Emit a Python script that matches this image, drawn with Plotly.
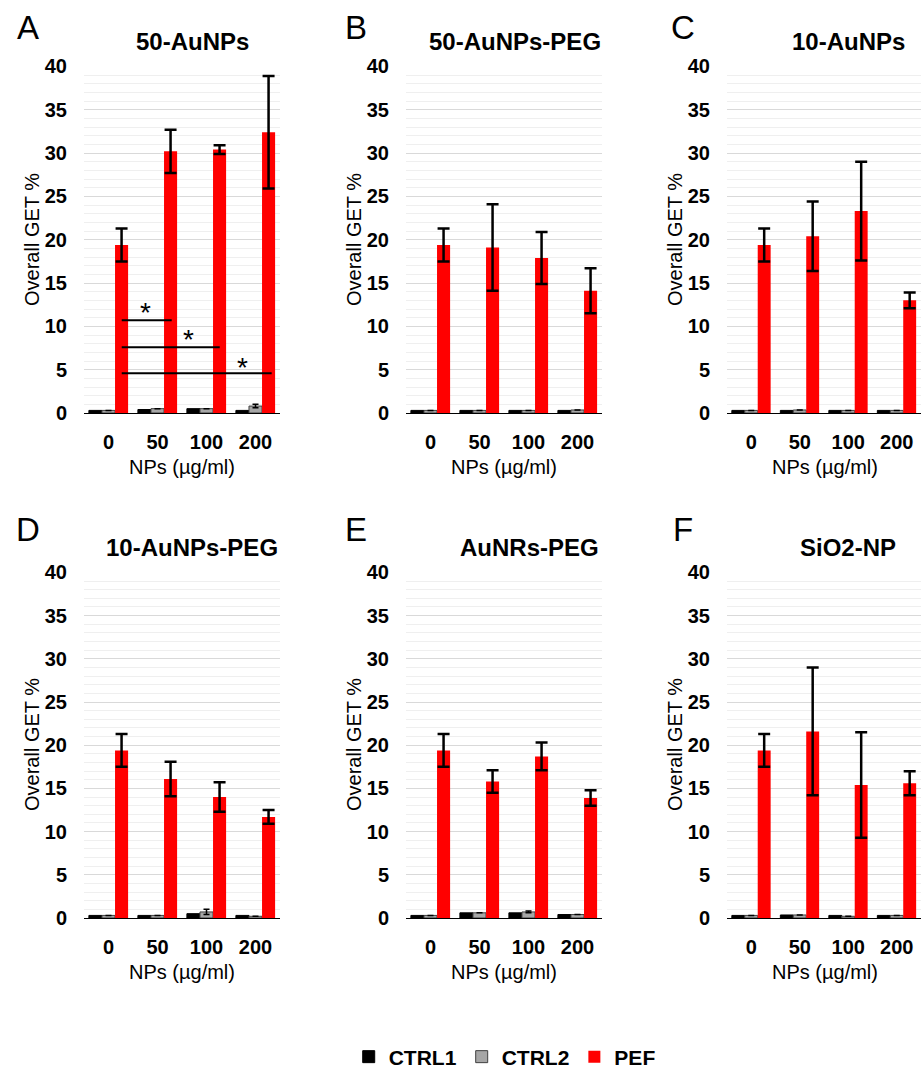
import plotly.graph_objects as go

# ---------------- data ----------------
categories = ["0", "50", "100", "200"]
panel_titles = ["50-AuNPs", "50-AuNPs-PEG", "10-AuNPs", "10-AuNPs-PEG", "AuNRs-PEG", "SiO2-NP"]
panel_letters = ["A", "B", "C", "D", "E", "F"]
series_names = ["CTRL1", "CTRL2", "PEF"]

pef_A = [19.4, 30.2, 30.4, 32.4]
pef_A_err = [1.9, 2.5, 0.5, 6.5]
ctrl1_A = [0.3, 0.4, 0.5, 0.3]
ctrl2_A = [0.3, 0.5, 0.5, 0.8]
ctrl2_A_err = [0, 0, 0, 0.2]

pef_B = [19.4, 19.1, 17.9, 14.1]
pef_B_err = [1.9, 5.0, 3.0, 2.6]
ctrl1_B = [0.3, 0.3, 0.3, 0.3]
ctrl2_B = [0.3, 0.3, 0.3, 0.35]
ctrl2_B_err = [0, 0, 0, 0]

pef_C = [19.4, 20.4, 23.3, 13.0]
pef_C_err = [1.9, 4.0, 5.7, 0.9]
ctrl1_C = [0.3, 0.3, 0.3, 0.3]
ctrl2_C = [0.3, 0.35, 0.3, 0.3]
ctrl2_C_err = [0, 0, 0, 0]

pef_D = [19.4, 16.1, 14.0, 11.7]
pef_D_err = [1.9, 2.0, 1.7, 0.8]
ctrl1_D = [0.3, 0.3, 0.5, 0.3]
ctrl2_D = [0.3, 0.3, 0.7, 0.2]
ctrl2_D_err = [0, 0, 0.3, 0]

pef_E = [19.4, 15.8, 18.7, 13.9]
pef_E_err = [1.9, 1.3, 1.6, 0.9]
ctrl1_E = [0.3, 0.6, 0.6, 0.4]
ctrl2_E = [0.3, 0.6, 0.7, 0.4]
ctrl2_E_err = [0, 0, 0.1, 0]

pef_F = [19.4, 21.6, 15.4, 15.6]
pef_F_err = [1.9, 7.4, 6.1, 1.4]
ctrl1_F = [0.3, 0.35, 0.3, 0.3]
ctrl2_F = [0.3, 0.35, 0.2, 0.3]
ctrl2_F_err = [0, 0, 0, 0]

# significance marks in panel A (category-index positions, GET % heights)
sig_x0 = [0.27, 0.27, 0.27]
sig_x1 = [1.29, 2.27, 3.33]
sig_y = [10.7, 7.6, 4.6]
star_x = [0.75, 1.63, 2.74]
star_y = [11.6, 8.5, 5.2]

panels = [
    (ctrl1_A, ctrl2_A, ctrl2_A_err, pef_A, pef_A_err),
    (ctrl1_B, ctrl2_B, ctrl2_B_err, pef_B, pef_B_err),
    (ctrl1_C, ctrl2_C, ctrl2_C_err, pef_C, pef_C_err),
    (ctrl1_D, ctrl2_D, ctrl2_D_err, pef_D, pef_D_err),
    (ctrl1_E, ctrl2_E, ctrl2_E_err, pef_E, pef_E_err),
    (ctrl1_F, ctrl2_F, ctrl2_F_err, pef_F, pef_F_err),
]

# ---------------- layout geometry (pixels) ----------------
W, H = 921, 1068
FONT = "Liberation Sans, Arial, sans-serif"
colors = ["#000000", "#a6a6a6", "#ff0000"]
edge_colors = ["#000000", "#404040", "#ff0000"]

col_x0 = [84, 406, 727]     # plot left edge
plot_w = 196
row_base = [413, 918]       # y pixel of 0
row_top = [66, 572]         # y pixel of 40
letter_x = [28, 356, 683]
letter_y = [28, 529]
title_x = [192, 515, 848, 192, 529, 848]
title_y = [42, 547]

fig = go.Figure()

for i, (c1, c2, c2e, pef, pefe) in enumerate(panels):
    r, c = divmod(i, 3)
    ax = "" if i == 0 else str(i + 1)
    xa, ya = "x" + ax, "y" + ax
    vals = [c1, c2, pef]
    errs = [None, c2e, pefe]
    for k in range(3):
        err = dict(visible=False) if errs[k] is None else dict(
            type="data", array=errs[k], color="#000000",
            thickness=2.5 if k == 2 else 1.5, width=6 if k == 2 else 3)
        fig.add_trace(go.Bar(
            x=categories, y=vals[k], name=series_names[k],
            marker=dict(color=colors[k], line=dict(width=0 if k == 2 else 1, color=edge_colors[k])),
            error_y=err,
            xaxis=xa, yaxis=ya, showlegend=(i == 0), legendgroup=series_names[k],
        ))
    x0 = col_x0[c] / W
    x1 = min((col_x0[c] + plot_w) / W, 1.0)
    y0 = 1 - row_base[r] / H
    y1 = 1 - row_top[r] / H
    fig.update_layout(**{
        "xaxis" + ax: dict(domain=[x0, x1], anchor=ya, type="category", automargin=False,
                           showline=True, linecolor="#000000", linewidth=1,
                           ticks="", showgrid=False, ticklabelstandoff=11,
                           tickfont=dict(family=FONT, size=20, color="#000000", weight="bold")),
        "yaxis" + ax: dict(domain=[y0, y1], anchor=xa, range=[0, 40.05], dtick=5, automargin=False,
                           tick0=0, showgrid=True, gridcolor="#d9d9d9", gridwidth=1,
                           minor=dict(dtick=1, showgrid=True, gridcolor="#efefef", gridwidth=1),
                           zeroline=False, showline=False, ticks="", ticklabelstandoff=16,
                           tickfont=dict(family=FONT, size=20, color="#000000", weight="bold")),
    })
    # panel letter
    fig.add_annotation(text=panel_letters[i], xref="paper", yref="paper",
                       x=letter_x[c] / W, y=1 - letter_y[r] / H,
                       xanchor="center", yanchor="middle", showarrow=False,
                       font=dict(family=FONT, size=33, color="#000000"))
    # panel title
    fig.add_annotation(text="<b>" + panel_titles[i] + "</b>", xref="paper", yref="paper",
                       x=title_x[i] / W, y=1 - title_y[r] / H,
                       xanchor="center", yanchor="middle", showarrow=False,
                       font=dict(family=FONT, size=24, color="#000000"))
    # y title
    fig.add_annotation(text="Overall GET %", xref="paper", yref="paper",
                       x=(col_x0[c] - 52) / W, y=1 - (240 + 505 * r) / H,
                       xanchor="center", yanchor="middle", showarrow=False, textangle=-90,
                       font=dict(family=FONT, size=20, color="#000000"))
    # x title
    fig.add_annotation(text="NPs (µg/ml)", xref="paper", yref="paper",
                       x=(col_x0[c] + 98) / W, y=1 - (467 + 505 * r) / H,
                       xanchor="center", yanchor="middle", showarrow=False,
                       font=dict(family=FONT, size=20, color="#000000"))

# significance lines and stars in panel A
for x0s, x1s, ys in zip(sig_x0, sig_x1, sig_y):
    fig.add_shape(type="line", xref="x", yref="y", x0=x0s, x1=x1s, y0=ys, y1=ys,
                  line=dict(color="#000000", width=2))
for sx, sy in zip(star_x, star_y):
    fig.add_annotation(text="*", xref="x", yref="y", x=sx, y=sy, showarrow=False,
                       xanchor="center", yanchor="middle",
                       font=dict(family=FONT, size=28, color="#000000"))

fig.update_layout(
    width=W, height=H,
    margin=dict(l=0, r=0, t=0, b=0, pad=0, autoexpand=False),
    paper_bgcolor="#ffffff", plot_bgcolor="#ffffff",
    barmode="group", bargap=0.2, bargroupgap=0,
    showlegend=True,
    legend=dict(orientation="h", x=0.548, y=1 - 1057 / H, xanchor="center", yanchor="middle",
                font=dict(family=FONT, size=21, color="#000000", weight="bold"),
                itemwidth=30, traceorder="normal", bgcolor="rgba(0,0,0,0)"),
)

fig.write_html("out.html", config={"displayModeBar": False},
               post_script="document.body.style.margin='0';document.body.style.overflow='hidden';")
